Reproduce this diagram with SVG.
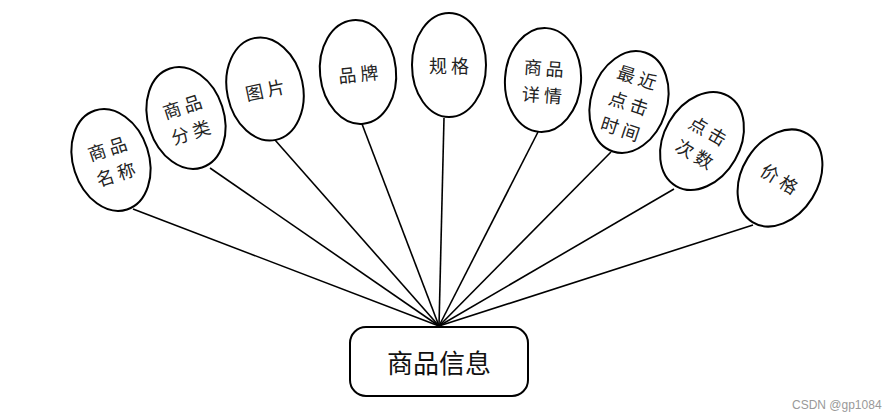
<svg xmlns="http://www.w3.org/2000/svg" width="891" height="420" viewBox="0 0 891 420">
<style>
.e{fill:#fff;stroke:#000;stroke-width:2}
.t{font-family:"Noto Sans CJK SC","Liberation Sans",sans-serif;font-size:18px;fill:#222;text-anchor:middle;dominant-baseline:central;letter-spacing:4px}
.c{stroke:#000;stroke-width:1.6;fill:none}
.b{fill:#fff;stroke:#000;stroke-width:2}
.bt{font-family:"Noto Sans CJK SC","Liberation Sans",sans-serif;font-size:26px;fill:#111;text-anchor:middle;dominant-baseline:central}
.w{font-family:"Liberation Sans",sans-serif;font-size:12px;fill:#999}
</style>
<rect width="891" height="420" fill="#fff"/>
<g id="connectors">
<line class="c" x1="133" y1="209" x2="439" y2="326"/>
<line class="c" x1="210" y1="168" x2="439" y2="326"/>
<line class="c" x1="275" y1="140" x2="439" y2="326"/>
<line class="c" x1="362" y1="124" x2="439" y2="326"/>
<line class="c" x1="444" y1="118" x2="439" y2="326"/>
<line class="c" x1="538" y1="132" x2="439" y2="326"/>
<line class="c" x1="611" y1="152" x2="439" y2="326"/>
<line class="c" x1="674" y1="189" x2="439" y2="326"/>
<line class="c" x1="753" y1="225" x2="439" y2="326"/>
</g>
<g id="n1" transform="translate(111,160) rotate(-18)">
<ellipse class="e" rx="38" ry="52"/>
<text class="t" x="2" y="-13">商品</text><text class="t" x="2" y="14">名称</text>
</g>
<g id="n2" transform="translate(186,118) rotate(-18)">
<ellipse class="e" rx="38" ry="52"/>
<text class="t" x="2" y="-13">商品</text><text class="t" x="2" y="14">分类</text>
</g>
<g id="n3" transform="translate(265,89) rotate(-12)">
<ellipse class="e" rx="38" ry="52"/>
<text class="t" x="2" y="0">图片</text>
</g>
<g id="n4" transform="translate(358,72) rotate(-6)">
<ellipse class="e" rx="38" ry="52"/>
<text class="t" x="2" y="1">品牌</text>
</g>
<g id="n5" transform="translate(449,65)">
<ellipse class="e" rx="37" ry="52"/>
<text class="t" x="2" y="0">规格</text>
</g>
<g id="n6" transform="translate(543,80) rotate(4)">
<ellipse class="e" rx="38" ry="52"/>
<text class="t" x="2" y="-13">商品</text><text class="t" x="2" y="14">详情</text>
</g>
<g id="n7" transform="translate(629,102) rotate(18)">
<ellipse class="e" rx="38" ry="52"/>
<text class="t" x="2" y="-27">最近</text><text class="t" x="2" y="0">点击</text><text class="t" x="2" y="27">时间</text>
</g>
<g id="n8" transform="translate(702,141) rotate(30)">
<ellipse class="e" rx="38" ry="52"/>
<text class="t" x="2" y="-13">点击</text><text class="t" x="2" y="14">次数</text>
</g>
<g id="n9" transform="translate(780,178) rotate(32)">
<ellipse class="e" rx="38" ry="52"/>
<text class="t" x="2" y="0">价格</text>
</g>
<g id="main">
<rect class="b" x="350" y="327" width="178" height="69" rx="16"/>
<text class="bt" x="439" y="361">商品信息</text>
</g>
<text class="w" x="792" y="409">CSDN @gp1084</text>
</svg>
